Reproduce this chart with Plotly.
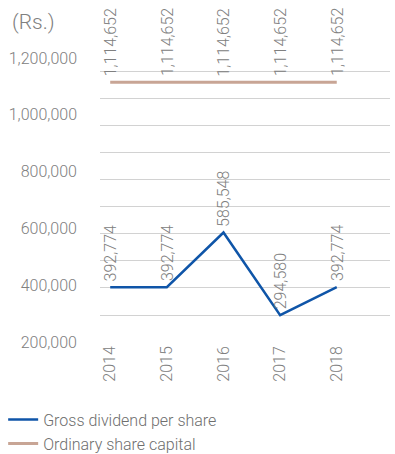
import plotly.graph_objects as go

# data
years = [2014, 2015, 2016, 2017, 2018]
gross_dividend = [392774, 392774, 585548, 294580, 392774]
share_capital = [1114652, 1114652, 1114652, 1114652, 1114652]
y_ticks = [200000, 400000, 600000, 800000, 1000000, 1200000]

BLUE = "#0f55a8"
TAN = "#c8a595"
GREY = "#808080"
FONT = "Roboto"

fig = go.Figure()
fig.add_trace(go.Scatter(x=years, y=gross_dividend, mode="lines",
                         name="Gross dividend per share",
                         line=dict(color=BLUE, width=2.5)))
fig.add_trace(go.Scatter(x=years, y=share_capital, mode="lines",
                         name="Ordinary share capital",
                         line=dict(color=TAN, width=3)))

# rotated value labels above each point
annotations = []
for series in (gross_dividend, share_capital):
    for x, y in zip(years, series):
        annotations.append(dict(
            x=x, y=y, xref="x", yref="y", text=f"{y:,}", textangle=-90,
            showarrow=False, xanchor="center", yanchor="bottom", yshift=4,
            font=dict(family=FONT, size=16, color=GREY, weight=300)))

annotations.append(dict(
    x=-0.31, y=1.096, xref="paper", yref="paper", text="(Rs.)",
    showarrow=False, xanchor="left", yanchor="middle",
    font=dict(family=FONT, size=21, color=GREY, weight=300)))

fig.update_layout(
    width=395, height=454,
    margin=dict(l=100, r=5, t=50, b=112, autoexpand=False),
    paper_bgcolor="white", plot_bgcolor="white",
    font=dict(family=FONT, size=16, color=GREY, weight=300),
    showlegend=True,
    legend=dict(orientation="v", xref="container", yref="container",
                x=0.008, xanchor="left", y=0.113, yanchor="top",
                font=dict(family=FONT, size=16, color="#6e6e6e", weight=300),
                bgcolor="rgba(0,0,0,0)"),
    annotations=annotations,
)
fig.update_xaxes(range=[2013.82, 2018.94], tickvals=years, tickangle=-90,
                 showgrid=False, zeroline=False, showline=False,
                 tickfont=dict(family=FONT, size=16, color=GREY, weight=300))
fig.update_yaxes(range=[200000, 1228000], tickvals=y_ticks, tickformat=",d",
                 showgrid=False, zeroline=False, showline=False,
                 ticklabelstandoff=22,
                 tickfont=dict(family=FONT, size=16, color=GREY, weight=300),
                 minor=dict(tick0=199500, dtick=95420, showgrid=True,
                            gridcolor="#d2d2d2", gridwidth=1))

fig.write_html("out.html", config={"displayModeBar": False},
               post_script="document.body.style.margin='0';")
